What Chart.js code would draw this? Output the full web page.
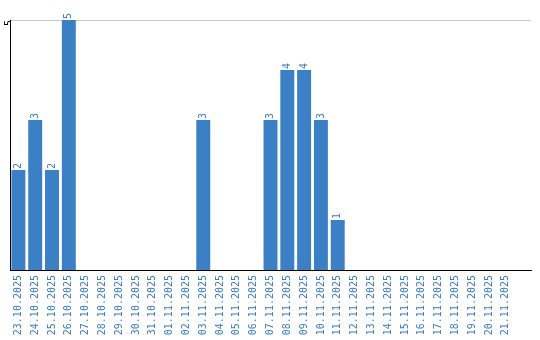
<!DOCTYPE html>
<html>
<head>
<meta charset="utf-8">
<script src="https://cdn.jsdelivr.net/npm/chart.js@4"></script>
<style>
    body { margin: 0; background: #fff; }
    #wrap { width: 540px; height: 340px; }
</style>
</head>
<body>
<div id="wrap"><canvas id="dayChart" width="540" height="340"></canvas></div>
<script>
// Days shown on the x axis (last slot has no label in the original)
const days = [
    '23.10.2025', '24.10.2025', '25.10.2025', '26.10.2025', '27.10.2025', '28.10.2025',
    '29.10.2025', '30.10.2025', '31.10.2025', '01.11.2025', '02.11.2025', '03.11.2025',
    '04.11.2025', '05.11.2025', '06.11.2025', '07.11.2025', '08.11.2025', '09.11.2025',
    '10.11.2025', '11.11.2025', '12.11.2025', '13.11.2025', '14.11.2025', '15.11.2025',
    '16.11.2025', '17.11.2025', '18.11.2025', '19.11.2025', '20.11.2025', '21.11.2025', ''
];

const counts = [
    2, 3, 2, 5, 0, 0,
    0, 0, 0, 0, 0, 3,
    0, 0, 0, 3, 4, 4,
    3, 1, 0, 0, 0, 0,
    0, 0, 0, 0, 0, 0, 0
];

const yTicks = [5];

const barColor = '#3b7fc4';
const labelColor = '#3a7bc2';

// Draws the vertical value labels above each bar
const barValues = {
    id: 'barValues',
    afterDatasetsDraw(chart) {
        const ctx = chart.ctx;
        const meta = chart.getDatasetMeta(0);
        ctx.save();
        ctx.font = '10px "DejaVu Sans Mono"';
        ctx.fillStyle = labelColor;
        ctx.textAlign = 'left';
        ctx.textBaseline = 'middle';
        meta.data.forEach((bar, i) => {
            const v = counts[i];
            if (!v) return;
            ctx.save();
            ctx.translate(bar.x, bar.y - 1);
            ctx.rotate(-Math.PI / 2);
            ctx.fillText(String(v), 0, 0);
            ctx.restore();
        });
        ctx.restore();
    }
};

new Chart(document.getElementById('dayChart'), {
    type: 'bar',
    data: {
        labels: days,
        datasets: [{
            data: counts,
            backgroundColor: barColor,
            borderWidth: 0,
            barPercentage: 0.83,
            categoryPercentage: 1
        }]
    },
    options: {
        responsive: false,
        animation: false,
        layout: {
            padding: { top: 20, right: 9, bottom: 0, left: 0 }
        },
        plugins: {
            legend: { display: false },
            tooltip: { enabled: false }
        },
        scales: {
            x: {
                afterFit: scale => {
                    scale.height = 70;
                },
                grid: { display: false, drawTicks: false },
                border: { display: true, color: '#000', width: 1 },
                ticks: {
                    color: labelColor,
                    font: { family: 'DejaVu Sans Mono', size: 10 },
                    minRotation: 90,
                    maxRotation: 90,
                    autoSkip: false,
                    padding: 5
                }
            },
            y: {
                min: 0,
                max: 5,
                afterBuildTicks: scale => {
                    scale.ticks = yTicks.map(v => ({ value: v }));
                },
                afterFit: scale => {
                    scale.width = 10;
                },
                grid: { color: '#c8c8c8', drawTicks: false },
                border: { display: true, color: '#000', width: 1 },
                ticks: {
                    color: '#000',
                    font: { family: 'DejaVu Sans Mono', size: 10 },
                    minRotation: 90,
                    maxRotation: 90,
                    padding: 1
                }
            }
        }
    },
    plugins: [barValues]
});
</script>
</body>
</html>
